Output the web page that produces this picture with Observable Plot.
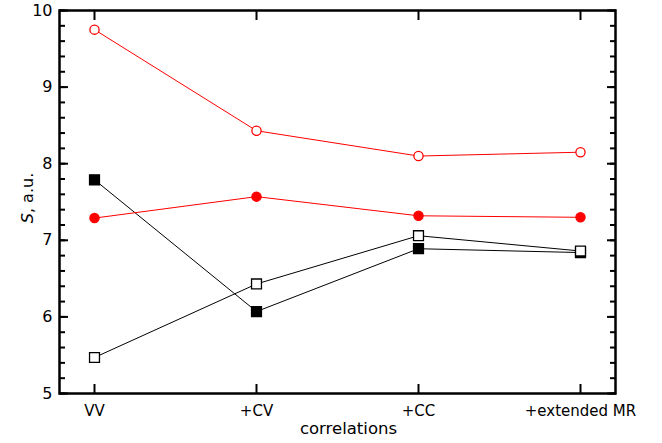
<!DOCTYPE html>
<html>
<head>
<meta charset="utf-8">
<script src="https://cdn.jsdelivr.net/npm/d3@7"></script>
<script src="https://cdn.jsdelivr.net/npm/@observablehq/plot@0.6"></script>
<style>
  html, body { margin: 0; padding: 0; background: #fff; }
  #chart { width: 662px; height: 443px; }
</style>
</head>
<body>
<div id="chart"></div>
<script>
// Correlation levels along the x axis
const categories = ["VV", "+CV", "+CC", "+extended MR"];

// S values (a.u.) for each series
const redOpen = [9.75, 8.43, 8.10, 8.15];
const redFilled = [7.29, 7.57, 7.32, 7.30];
const blackFilled = [7.79, 6.07, 6.89, 6.84];
const blackOpen = [5.47, 6.43, 7.06, 6.86];

// Axis ticks
const majorTicks = [5, 6, 7, 8, 9, 10];
const minorTicks = d3.range(5, 10.001, 0.2).map(v => +v.toFixed(1));

const xLabel = "correlations";

const rows = (values) => categories.map((c, i) => ({cat: c, v: values[i]}));

const series = [
  {data: rows(blackFilled), color: "#000", symbol: "square", fill: "#000", r: 5.6},
  {data: rows(blackOpen), color: "#000", symbol: "square", fill: "#fff", r: 5.6},
  {data: rows(redFilled), color: "#ff0000", symbol: "circle", fill: "#ff0000", r: 4.6},
  {data: rows(redOpen), color: "#ff0000", symbol: "circle", fill: "#fff", r: 4.6}
];

const tickFont = 15;

const plot = Plot.plot({
  width: 662,
  height: 443,
  marginLeft: 59,
  marginRight: 47,
  marginTop: 10,
  marginBottom: 50,
  style: {fontFamily: "DejaVu Sans, Verdana, sans-serif", fontSize: tickFont + "px", color: "#000", background: "#fff"},
  x: {type: "point", domain: categories, padding: 0.21},
  y: {domain: [5, 10]},
  marks: [
    // tick labels
    Plot.axisY({ticks: majorTicks, tickFormat: d3.format("d"), tickSize: 0, tickPadding: 7, label: null, fontSize: 16}),
    Plot.axisX({tickSize: 0, tickPadding: 12, label: null, fontSize: tickFont}),
    // inward tick marks on all four sides
    Plot.axisY({anchor: "left", ticks: minorTicks, tickSize: -6, strokeWidth: 2, fill: "none", label: null}),
    Plot.axisY({anchor: "left", ticks: majorTicks, tickSize: -9, strokeWidth: 2, fill: "none", label: null}),
    Plot.axisY({anchor: "right", ticks: minorTicks, tickSize: -6, strokeWidth: 2, fill: "none", label: null}),
    Plot.axisY({anchor: "right", ticks: majorTicks, tickSize: -9, strokeWidth: 2, fill: "none", label: null}),
    Plot.axisX({anchor: "bottom", tickSize: -9, strokeWidth: 2, fill: "none", label: null}),
    Plot.axisX({anchor: "top", tickSize: -9, strokeWidth: 2, fill: "none", label: null}),
    Plot.frame({stroke: "#000", strokeWidth: 2.5}),
    // series
    ...series.flatMap(s => [
      Plot.line(s.data, {x: "cat", y: "v", stroke: s.color, strokeWidth: 1}),
      Plot.dot(s.data, {x: "cat", y: "v", symbol: s.symbol, r: s.r, fill: s.fill, stroke: s.color, strokeWidth: 1.3})
    ]),
    // x axis title
    Plot.text([xLabel], {frameAnchor: "bottom", dx: 11, dy: 35, fontSize: 16.5, lineAnchor: "middle"})
  ]
});

document.getElementById("chart").appendChild(plot);

// y axis title with italic symbol
const svg = d3.select(plot);
const yTitle = svg.append("text")
  .attr("transform", "translate(33,198) rotate(-90)")
  .attr("text-anchor", "middle")
  .attr("font-size", 16)
  .attr("fill", "#000");
yTitle.append("tspan").attr("font-style", "italic").text("S");
yTitle.append("tspan").text(", a.u.");
</script>
</body>
</html>
